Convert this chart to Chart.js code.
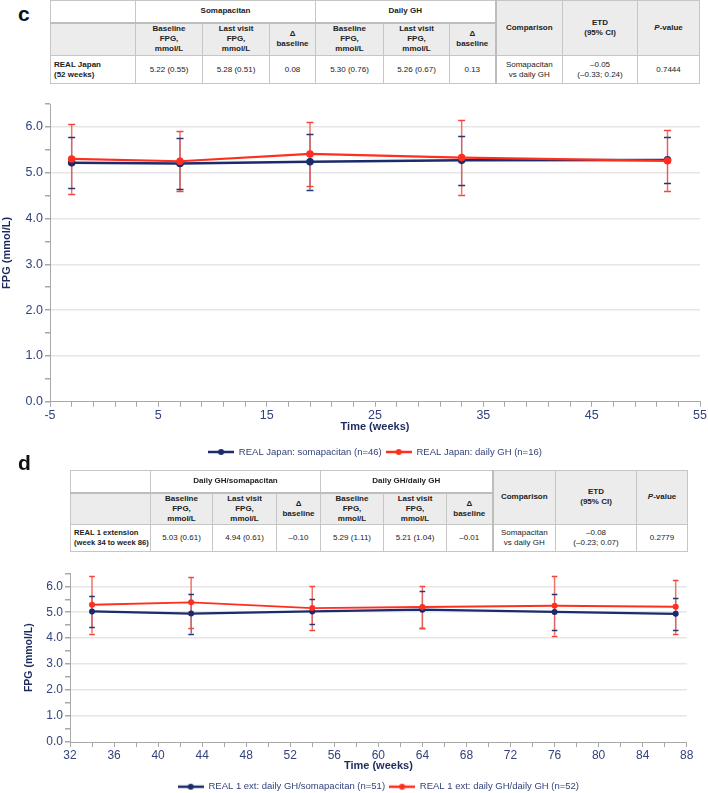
<!DOCTYPE html>
<html>
<head>
<meta charset="utf-8">
<script src="https://cdn.jsdelivr.net/npm/chart.js@4.4.1/dist/chart.umd.min.js"></script>
<style>
html, body { margin: 0; padding: 0; background: #fff; width: 708px; height: 793px; overflow: hidden; position: relative; font-family: 'Liberation Sans', Arial, sans-serif; }
.lbl { position: absolute; left: 18px; font-weight: bold; font-size: 21px; line-height: 21px; color: #111; }
table.t { position: absolute; border-collapse: collapse; table-layout: fixed; font-size: 8px; color: #222; }
.t td, .t th { border: 1px solid #c6c6c6; text-align: center; vertical-align: middle; padding: 0 2px; line-height: 10px; overflow: hidden; }
.t th { background: #ececec; font-weight: bold; }
.t tr.g th { background: #fff; border-bottom: 2px solid #bdbdbd; }
.t tr.g th.rs { background: #ececec; border-bottom: 1px solid #c6c6c6; }
.t .sep { border-left: 2px solid #bdbdbd; }
.t td.rl { text-align: left; font-weight: bold; padding: 0 0 0 3px; white-space: nowrap; }
canvas { position: absolute; left: 0; }
</style>
</head>
<body>

<div class="lbl" style="top:3px">c</div>
<table class="t" style="left:50px;top:0;width:649px">
  <colgroup>
    <col style="width:85px"><col style="width:67px"><col style="width:67px"><col style="width:46px">
    <col style="width:68px"><col style="width:66px"><col style="width:46px">
    <col style="width:67px"><col style="width:75px"><col style="width:62px">
  </colgroup>
  <tr class="g" style="height:22px">
    <th></th><th colspan="3">Somapacitan</th><th colspan="3">Daily GH</th>
    <th rowspan="2" class="rs sep">Comparison</th><th rowspan="2" class="rs">ETD<br>(95% CI)</th><th rowspan="2" class="rs"><i>P</i>-value</th>
  </tr>
  <tr style="height:33px">
    <th></th>
    <th>Baseline<br>FPG,<br>mmol/L</th><th>Last visit<br>FPG,<br>mmol/L</th><th>Δ<br>baseline</th>
    <th>Baseline<br>FPG,<br>mmol/L</th><th>Last visit<br>FPG,<br>mmol/L</th><th>Δ<br>baseline</th>
  </tr>
  <tr style="height:28px">
    <td class="rl">REAL Japan<br>(52 weeks)</td>
    <td>5.22 (0.55)</td><td>5.28 (0.51)</td><td>0.08</td>
    <td>5.30 (0.76)</td><td>5.26 (0.67)</td><td>0.13</td>
    <td class="sep">Somapacitan<br>vs daily GH</td><td>–0.05<br>(–0.33; 0.24)</td><td>0.7444</td>
  </tr>
</table>
<canvas id="chartC" width="708" height="378" style="top:90px"></canvas>

<div class="lbl" style="top:452px">d</div>
<table class="t" style="left:70px;top:470px;width:617px">
  <colgroup>
    <col style="width:80px"><col style="width:62px"><col style="width:64px"><col style="width:44px">
    <col style="width:63px"><col style="width:63px"><col style="width:46px">
    <col style="width:63px"><col style="width:81px"><col style="width:51px">
  </colgroup>
  <tr class="g" style="height:22px">
    <th></th><th colspan="3">Daily GH/somapacitan</th><th colspan="3">Daily GH/daily GH</th>
    <th rowspan="2" class="rs sep">Comparison</th><th rowspan="2" class="rs">ETD<br>(95% CI)</th><th rowspan="2" class="rs"><i>P</i>-value</th>
  </tr>
  <tr style="height:30px">
    <th></th>
    <th>Baseline<br>FPG,<br>mmol/L</th><th>Last visit<br>FPG,<br>mmol/L</th><th>Δ<br>baseline</th>
    <th>Baseline<br>FPG,<br>mmol/L</th><th>Last visit<br>FPG,<br>mmol/L</th><th>Δ<br>baseline</th>
  </tr>
  <tr style="height:27px">
    <td class="rl" style="font-size:7.6px">REAL 1 extension<br>(week 34 to week 86)</td>
    <td>5.03 (0.61)</td><td>4.94 (0.61)</td><td>–0.10</td>
    <td>5.29 (1.11)</td><td>5.21 (1.04)</td><td>–0.01</td>
    <td class="sep">Somapacitan<br>vs daily GH</td><td>–0.08<br>(–0.23; 0.07)</td><td>0.2779</td>
  </tr>
</table>
<canvas id="chartD" width="708" height="256" style="top:549px"></canvas>

<script>
// panel c: REAL Japan
const weeksC = [-3, 7, 19, 33, 52];
const somaC = [5.22, 5.20, 5.24, 5.27, 5.28];
const somaSdC = [0.55, 0.56, 0.61, 0.53, 0.51];
const dailyC = [5.30, 5.25, 5.41, 5.33, 5.26];
const dailySdC = [0.76, 0.66, 0.69, 0.81, 0.67];
const labelsC = ['REAL Japan: somapacitan (n=46)', 'REAL Japan: daily GH (n=16)'];

// panel d: REAL 1 extension
const weeksD = [34, 43, 54, 64, 76, 87];
const switchD = [5.03, 4.95, 5.03, 5.10, 5.01, 4.94];
const switchSdD = [0.61, 0.77, 0.47, 0.71, 0.71, 0.61];
const stayD = [5.29, 5.38, 5.16, 5.20, 5.25, 5.21];
const staySdD = [1.11, 0.98, 0.84, 0.81, 1.15, 1.04];
const labelsD = ['REAL 1 ext: daily GH/somapacitan (n=51)', 'REAL 1 ext: daily GH/daily GH (n=52)'];

const NAVY = '#1c2b6b';
const RED = '#ff2f1f';
const TICK = '#34437c';
const FONT = "'Liberation Sans', Arial, sans-serif";

function legendMark(color, r) {
  const c = document.createElement('canvas');
  c.width = 26; c.height = 8;
  const g = c.getContext('2d');
  g.strokeStyle = color; g.lineWidth = 2.5;
  g.beginPath(); g.moveTo(0, 4); g.lineTo(26, 4); g.stroke();
  g.fillStyle = color;
  g.beginPath(); g.arc(13, 4, r, 0, Math.PI * 2); g.fill();
  return c;
}

const errorBars = {
  id: 'errorBars',
  beforeDatasetsDraw(chart, args, opts) {
    const { ctx, scales: { x, y } } = chart;
    const sets = chart.data.datasets;
    ctx.save();
    sets.forEach(ds => {
      ctx.strokeStyle = ds.errStem;
      ctx.lineWidth = ds.errStemWidth;
      ds.data.forEach((p, i) => {
        const px = x.getPixelForValue(p.x);
        ctx.beginPath();
        ctx.moveTo(px, y.getPixelForValue(p.y + ds.sd[i]));
        ctx.lineTo(px, y.getPixelForValue(p.y - ds.sd[i]));
        ctx.stroke();
      });
    });
    sets.forEach(ds => {
      ctx.strokeStyle = ds.errCap;
      ctx.lineWidth = 1.5;
      ds.data.forEach((p, i) => {
        const px = x.getPixelForValue(p.x);
        [p.y + ds.sd[i], p.y - ds.sd[i]].forEach(v => {
          const py = Math.round(y.getPixelForValue(v)) + 0.5;
          ctx.beginPath();
          ctx.moveTo(px - opts.cap, py);
          ctx.lineTo(px + opts.cap, py);
          ctx.stroke();
        });
      });
    });
    ctx.restore();
  }
};

function series(xs, ys) {
  return xs.map((v, i) => ({ x: v, y: ys[i] }));
}

function makeChart(id, o) {
  new Chart(document.getElementById(id), {
    type: 'line',
    data: {
      datasets: [
        {
          label: o.labels[0], data: series(o.weeks, o.a), sd: o.aSd, order: 2,
          borderColor: NAVY, backgroundColor: NAVY, borderWidth: o.lineW,
          pointRadius: o.pointR, pointBackgroundColor: NAVY, pointBorderWidth: 0,
          errStem: NAVY, errStemWidth: 1, errCap: '#2a3570',
          legendMark: legendMark(NAVY, 3)
        },
        {
          label: o.labels[1], data: series(o.weeks, o.b), sd: o.bSd, order: 1,
          borderColor: RED, backgroundColor: RED, borderWidth: o.lineW - 0.3,
          pointRadius: o.pointR, pointBackgroundColor: RED, pointBorderWidth: 0,
          errStem: 'rgba(242,100,92,0.9)', errStemWidth: 1.5, errCap: '#f2463a',
          legendMark: legendMark(RED, 3)
        }
      ]
    },
    options: {
      responsive: false,
      animation: false,
      devicePixelRatio: 1,
      layout: { padding: o.padding },
      plugins: {
        tooltip: { enabled: false },
        errorBars: { cap: o.cap },
        legend: {
          position: 'bottom',
          fullSize: false,
          labels: {
            usePointStyle: true, pointStyleWidth: 26, boxHeight: 8, padding: 4,
            color: TICK, font: { size: 9.5, family: FONT },
            sort: (a, b) => a.datasetIndex - b.datasetIndex,
            generateLabels(chart) {
              const items = Chart.defaults.plugins.legend.labels.generateLabels(chart);
              items.forEach(it => { it.pointStyle = chart.data.datasets[it.datasetIndex].legendMark; });
              return items;
            }
          }
        }
      },
      scales: {
        x: {
          type: 'linear', min: o.xMin, max: o.xMax,
          afterFit: s => { s.height = o.xAxisH; },
          ticks: {
            stepSize: 2, autoSkip: false, maxRotation: 0, padding: 1,
            color: TICK, font: { size: o.tickSize, family: FONT },
            callback: v => ((v - o.xMin) % o.labelStep === 0 ? String(v) : '')
          },
          grid: { drawOnChartArea: false, drawTicks: true, tickLength: 5, tickColor: '#a8a8a8' },
          border: { color: '#a8a8a8' },
          title: {
            display: true, text: 'Time (weeks)', color: '#1d2a5e',
            font: { size: 11, weight: 'bold', family: FONT },
            padding: { top: 0, bottom: o.xTitlePad }
          }
        },
        y: {
          min: 0, max: 6.5,
          afterFit: s => { s.width = o.yAxisW; },
          ticks: {
            stepSize: 0.5, autoSkip: false, padding: 2,
            color: TICK, font: { size: o.tickSize, family: FONT },
            callback: v => (Number.isInteger(v) ? v.toFixed(1) : '')
          },
          grid: {
            tickLength: 5, tickColor: '#a8a8a8', lineWidth: 1.5,
            color: ctx => {
              const v = ctx.tick ? ctx.tick.value : 0;
              return (v > 0 && v < 6.5 && Number.isInteger(v)) ? '#e6e6e6' : 'rgba(0,0,0,0)';
            }
          },
          border: { color: '#a8a8a8' },
          title: {
            display: true, text: 'FPG (mmol/L)', color: '#1d2a5e',
            font: { size: o.yTitleSize, weight: 'bold', family: FONT },
            padding: { top: o.yTitlePad, bottom: 0 }
          }
        }
      }
    },
    plugins: [errorBars]
  });
}

makeChart('chartC', {
  weeks: weeksC, a: somaC, aSd: somaSdC, b: dailyC, bSd: dailySdC, labels: labelsC,
  xMin: -5, xMax: 55, labelStep: 10,
  padding: { top: 14, right: 8, bottom: 1.25, left: 0 },
  xAxisH: 41.5, xTitlePad: 9.6, yAxisW: 50, yTitlePad: 0, yTitleSize: 11,
  tickSize: 12.5, lineW: 2.5, pointR: 3.8, cap: 3.5
});

makeChart('chartD', {
  weeks: weeksD, a: switchD, aSd: switchSdD, b: stayD, bSd: staySdD, labels: labelsD,
  xMin: 32, xMax: 88, labelStep: 4,
  padding: { top: 24.3, right: 21.3, bottom: 3.5, left: 0 },
  xAxisH: 36, xTitlePad: 5.4, yAxisW: 70, yTitlePad: 22.4, yTitleSize: 10.5,
  tickSize: 12, lineW: 2.2, pointR: 3, cap: 2.8
});
</script>
</body>
</html>
